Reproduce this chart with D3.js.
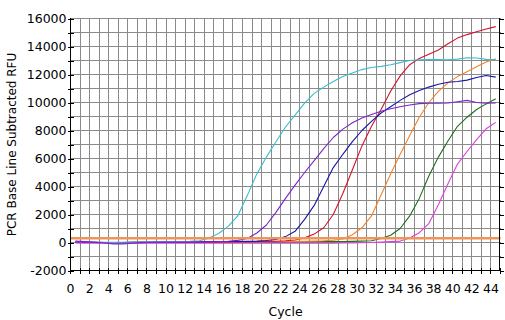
<!DOCTYPE html>
<html>
<head>
<meta charset="utf-8">
<script src="https://cdn.jsdelivr.net/npm/d3@7"></script>
<style>
  html, body { margin: 0; padding: 0; background: #fff; }
  svg { display: block; }
  text { font-family: "DejaVu Sans", Verdana, sans-serif; fill: #000; }
</style>
</head>
<body>
<svg id="chart" width="505" height="320"></svg>
<script>
// ---- data ----
const cycles = [1,2,3,4,5,6,7,8,9,10,11,12,13,14,15,16,17,18,19,20,21,22,23,24,25,26,27,28,29,30,31,32,33,34,35,36,37,38,39,40,41,42,43,44,45];

const magenta = [-40,-50,-50,-50,-50,-50,-50,-50,-50,-50,-50,-50,-50,-50,-50,-50,-50,-50,-50,-50,-50,-50,-50,-50,-50,-50,-50,-50,-40,-40,-20,0,30,60,
  100,320,700,1350,2700,4200,5600,6500,7350,8120,8580];
const green = [20,10,0,0,0,0,10,10,20,20,20,20,30,30,30,30,30,40,40,40,40,40,50,50,50,60,60,60,70,80,100,
  130,280,520,1000,1900,3150,4750,6100,7250,8300,8950,9500,9900,10260];
const orange = [20,10,0,0,0,0,10,10,20,20,20,30,30,30,40,40,40,50,50,60,60,70,70,80,90,100,120,160,
  250,550,1050,1900,3400,4900,6300,7650,8950,10000,10800,11400,11850,12200,12550,12900,13120];
const red = [30,20,10,0,0,0,10,20,20,30,30,30,40,40,40,50,50,60,60,70,80,90,120,180,
  330,600,1050,2000,3500,5200,6900,8300,9500,10800,11900,12700,13150,13450,13750,14200,14600,14850,15050,15250,15420];
const blue = [30,20,10,0,-10,-10,0,10,20,30,30,40,40,40,50,50,60,70,80,100,140,
  220,420,800,1650,2650,4000,5350,6300,7200,8000,8650,9250,9700,10150,10550,10850,11100,11300,11450,11500,11600,11780,11930,11810];
const violet = [100,60,10,-40,-100,-100,-50,-10,20,40,40,40,40,40,50,60,90,150,
  280,680,1250,2150,3150,4100,5000,5850,6700,7500,8100,8550,8900,9150,9380,9550,9700,9820,9920,9950,9950,9960,10050,10150,10000,9950,9960];
const cyan = [60,50,30,20,10,20,30,40,50,60,60,70,90,
  130,330,640,1150,1900,3350,4900,6100,7200,8250,9100,9950,10650,11100,11500,11850,12100,12350,12500,12580,12700,12850,13000,13050,13060,13060,13050,13100,13200,13180,13080,13050];

const threshold = 300;

const xTicks = [0,1,2,3,4,5,6,7,8,9,10,11,12,13,14,15,16,17,18,19,20,21,22,23,24,25,26,27,28,29,30,31,32,33,34,35,36,37,38,39,40,41,42,43,44,45];
const xLabels = [0,2,4,6,8,10,12,14,16,18,20,22,24,26,28,30,32,34,36,38,40,42,44];
const yTicks = [-2000,-1000,0,1000,2000,3000,4000,5000,6000,7000,8000,9000,10000,11000,12000,13000,14000,15000,16000];
const yLabels = [-2000,0,2000,4000,6000,8000,10000,12000,14000,16000];

const xTitle = "Cycle";
const yTitle = "PCR Base Line Subtracted RFU";

// draw order: first drawn is at the bottom
const series = [
  { name: "green",   values: green,   color: "#1E6E1E" },
  { name: "orange",  values: orange,  color: "#F0822E" },
  { name: "red",     values: red,     color: "#D0142C" },
  { name: "blue",    values: blue,    color: "#1A14A8" },
  { name: "cyan",    values: cyan,    color: "#3BBCD0" },
  { name: "magenta", values: magenta, color: "#E03CE0" },
  { name: "violet",  values: violet,  color: "#7B24C8" }
];

// ---- layout ----
const svg = d3.select("#chart");
const x = d3.scaleLinear().domain([0, 45]).range([70.5, 500.5]);
const y = d3.scaleLinear().domain([-2000, 16000]).range([270.5, 18.5]);
const px = v => Math.round(x(v) - 0.5) + 0.5;

// grid
const grid = svg.append("g").attr("shape-rendering", "crispEdges")
  .attr("stroke", "#8a8a8a").attr("stroke-width", 1);
grid.selectAll("line.v").data(xTicks.filter(t => t > 0 && t < 45)).join("line")
  .attr("class", "v")
  .attr("x1", d => px(d)).attr("x2", d => px(d))
  .attr("y1", y(16000)).attr("y2", y(-2000));
grid.selectAll("line.h").data(yTicks.filter(t => t > -2000)).join("line")
  .attr("class", "h")
  .attr("x1", x(0)).attr("x2", x(45))
  .attr("y1", d => y(d)).attr("y2", d => y(d));

// curves (point of cycle c sits at c - 0.5)
const line = d3.line()
  .x((d, i) => x(cycles[i] - 0.5))
  .y(d => y(d));
svg.append("g").selectAll("path").data(series).join("path")
  .attr("fill", "none")
  .attr("stroke", d => d.color)
  .attr("stroke-width", 1.1)
  .attr("stroke-linejoin", "round")
  .attr("d", d => line(d.values));

// threshold
svg.append("line")
  .attr("x1", x(0)).attr("x2", x(45))
  .attr("y1", y(threshold)).attr("y2", y(threshold))
  .attr("stroke", "#F0955A").attr("stroke-width", 2.6);

// axes
const fmt = d => String(d);

// left axis
const left = svg.append("g").attr("transform", `translate(${px(0)},0)`)
  .attr("shape-rendering", "crispEdges");
left.call(d3.axisLeft(y).tickValues(yTicks).tickSize(3).tickFormat(""));
left.selectAll(".tick line").attr("x1", 3).attr("stroke", "#000");
left.select(".domain").remove();
left.append("line").attr("x1", 0).attr("x2", 0)
  .attr("y1", y(16000) - 0.5).attr("y2", y(-2000) + 0.5).attr("stroke", "#000");
svg.append("g").selectAll("text").data(yLabels).join("text")
  .attr("x", 66.5).attr("y", d => y(d))
  .attr("dy", "0.36em")
  .attr("text-anchor", "end")
  .style("font-size", "12.5px")
  .text(fmt);

// right axis
const right = svg.append("g").attr("transform", `translate(${px(45) - 1},0)`)
  .attr("shape-rendering", "crispEdges");
right.call(d3.axisRight(y).tickValues(yTicks).tickSize(4).tickFormat(""));
right.selectAll(".tick line").attr("stroke", "#000");
right.select(".domain").remove();
right.append("line").attr("x1", 0).attr("x2", 0)
  .attr("y1", y(16000) - 0.5).attr("y2", y(-2000) + 0.5).attr("stroke", "#000");

// bottom axis
const bottom = svg.append("g").attr("transform", `translate(0,${y(-2000)})`)
  .attr("shape-rendering", "crispEdges");
bottom.call(d3.axisBottom(x).tickValues(xTicks).tickSize(3).tickFormat(""));
bottom.selectAll(".tick").attr("transform", d => `translate(${px(d)},0)`);
bottom.selectAll(".tick line").attr("y1", -3).attr("stroke", "#000");
bottom.select(".domain").remove();
bottom.append("line").attr("x1", px(0)).attr("x2", px(45) - 1).attr("y1", 0).attr("y2", 0).attr("stroke", "#000");
svg.append("g").selectAll("text").data(xLabels).join("text")
  .attr("x", d => x(d)).attr("y", 293)
  .attr("text-anchor", "middle")
  .style("font-size", "12.5px")
  .text(fmt);

// titles
svg.append("text")
  .attr("x", (x(0) + x(45)) / 2).attr("y", 315.5)
  .attr("text-anchor", "middle")
  .style("font-size", "12.5px")
  .text(xTitle);
svg.append("text")
  .attr("transform", `translate(16,${(y(16000) + y(-2000)) / 2}) rotate(-90)`)
  .attr("text-anchor", "middle")
  .style("font-size", "12px")
  .text(yTitle);
</script>
</body>
</html>
